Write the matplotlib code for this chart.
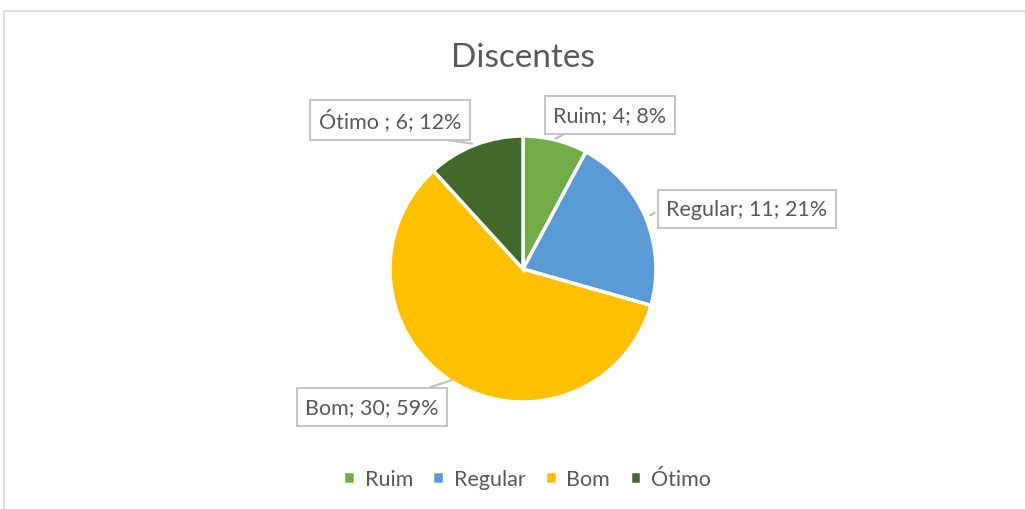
import matplotlib.pyplot as plt
from matplotlib.patches import Rectangle

# dados
categorias = ["Ruim", "Regular", "Bom", "Ótimo"]
rotulos = ["Ruim", "Regular", "Bom", "Ótimo "]
valores = [4, 11, 30, 6]
percentuais = [8, 21, 59, 12]
cores = ["#70AD47", "#5B9BD5", "#FFC000", "#43682B"]

plt.rcParams['font.family'] = ['Lato', 'DejaVu Sans']
cinza = "#595959"

fig = plt.figure(figsize=(10.25, 5.1), dpi=100)
ax = fig.add_axes([0, 0, 1, 1])

# moldura do grafico
fig.patches.append(Rectangle((4 / 1025, -0.1), 1.2, (510 - 12) / 510 + 0.1,
                             transform=fig.transFigure, fill=False,
                             edgecolor="#D9D9D9", linewidth=1.2))

cx, cy, r = 523, 510 - 270, 133
wedges, _ = ax.pie(valores, colors=cores, startangle=90, counterclock=False,
                   center=(cx, cy), radius=r, frame=True,
                   wedgeprops=dict(edgecolor="white", linewidth=2.5))
ax.set_xlim(0, 1025)
ax.set_ylim(0, 510)
ax.set_aspect("equal")
ax.axis("off")

ax.text(cx, 510 - 58, "Discentes", ha="center", va="center",
        fontsize=24, color=cinza)

# posicao dos rotulos (centro da caixa) e ponta da linha
pos_rotulo = [(610, 116), (747, 210), (372, 408), (390, 121)]
ponta = [(553, 141), (648, 218), (455, 380), (475, 145)]
saida = [(566, 134), (657, 212), (428, 389), (440, 140)]

for i in range(len(valores)):
    txt = f"{rotulos[i]}; {valores[i]}; {percentuais[i]}%"
    x, y = pos_rotulo[i]
    ax.annotate("", xy=(ponta[i][0], 510 - ponta[i][1]),
                xytext=(saida[i][0], 510 - saida[i][1]),
                arrowprops=dict(arrowstyle="-", color="#BFBFBF", lw=1.5))
    ax.text(x, 510 - y, txt, ha="center", va="center", fontsize=15.5,
            color=cinza,
            bbox=dict(boxstyle="square,pad=0.4", facecolor="white",
                      edgecolor="#BFBFBF", linewidth=1.3))

leg = ax.legend(wedges, categorias, loc="center", bbox_to_anchor=(527 / 1025, (510 - 480) / 510),
                ncol=4, frameon=False, fontsize=15.5, handlelength=0.55,
                handleheight=0.55, handletextpad=0.45, columnspacing=0.9)
for t in leg.get_texts():
    t.set_color(cinza)

fig.savefig("out.png", dpi=100)
